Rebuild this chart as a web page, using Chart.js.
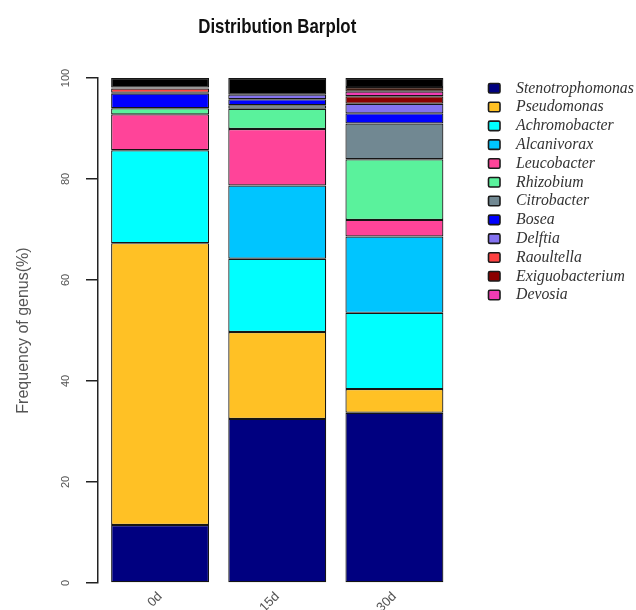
<!DOCTYPE html>
<html>
<head>
<meta charset="utf-8">
<title>Distribution Barplot</title>
<script src="https://cdn.jsdelivr.net/npm/chart.js@4/dist/chart.umd.min.js"></script>
<style>
  html, body { margin: 0; padding: 0; background: #ffffff; }
  #wrap { position: relative; width: 636px; height: 610px; }
</style>
</head>
<body>
<div id="wrap"><canvas id="chart"></canvas></div>
<script>
// Sampling days (bar positions 1..3 on the x axis)
const categories = ['0d', '15d', '30d'];
const positions = [1, 2, 3];
const yTicks = [0, 20, 40, 60, 80, 100];

// Relative abundance of each genus (%) per sampling day, stacked bottom to top
const genera = [
  'Stenotrophomonas', 'Pseudomonas', 'Achromobacter', 'Alcanivorax',
  'Leucobacter', 'Rhizobium', 'Citrobacter', 'Bosea', 'Delftia',
  'Raoultella', 'Exiguobacterium', 'Devosia'
];
const stenotrophomonas = [11.5, 32.5, 33.7];
const pseudomonas      = [55.8, 17.2, 4.7];
const achromobacter    = [18.4, 14.5, 15.1];
const alcanivorax      = [0.0, 14.5, 15.1];
const leucobacter      = [7.1, 11.2, 3.3];
const rhizobium        = [1.2, 4.0, 12.0];
const citrobacter      = [0.0, 0.7, 7.1];
const bosea            = [2.9, 1.2, 2.0];
const delftia          = [0.2, 0.9, 1.9];
const raoultella       = [0.8, 0.0, 0.0];
const exiguobacterium  = [0.2, 0.0, 1.5];
const devosia          = [0.0, 0.0, 0.9];
const minorGenera      = [0.0, 0.0, 0.9];
const others           = [1.9, 3.3, 1.8];

const generaColors = [
  '#000080', '#FFC125', '#00FFFF', '#00C5FF', '#FF4499', '#5AF29C',
  '#718892', '#0000FF', '#8472F0', '#FF4242', '#8B0000', '#F23CB4'
];

const seriesValues = [
  stenotrophomonas, pseudomonas, achromobacter, alcanivorax, leucobacter,
  rhizobium, citrobacter, bosea, delftia, raoultella, exiguobacterium, devosia
];

function toPoints(values) {
  return values.map((v, i) => ({ x: positions[i], y: v }));
}

const datasets = genera.map((name, i) => ({
  label: name,
  data: toPoints(seriesValues[i]),
  backgroundColor: generaColors[i]
}));
datasets.push({ label: 'Minor genera', data: toPoints(minorGenera), backgroundColor: '#3C1A10', inLegend: false });
datasets.push({ label: 'Others', data: toPoints(others), backgroundColor: '#000000', inLegend: false });
datasets.forEach(ds => {
  ds.borderColor = '#151515';
  ds.borderWidth = 1.2;
  ds.borderSkipped = false;
  ds.barPercentage = 0.836;
  ds.categoryPercentage = 1.0;
});

// Title and key drawn on top of the plot
const decorations = {
  id: 'decorations',
  afterDraw(chart) {
    const ctx = chart.ctx;
    const area = chart.chartArea;

    // Title, condensed bold face centred over the plot
    ctx.save();
    const title = 'Distribution Barplot';
    ctx.font = 'bold 21px "Liberation Sans", Arial, sans-serif';
    const w = ctx.measureText(title).width;
    const sx = 158 / w;
    ctx.translate(area.left + (area.right - area.left) / 2, 33);
    ctx.scale(sx, 1);
    ctx.fillStyle = '#111111';
    ctx.textAlign = 'center';
    ctx.textBaseline = 'alphabetic';
    ctx.fillText(title, 0, 0);
    ctx.restore();

    // Key of genera
    ctx.save();
    ctx.font = 'italic 15.8px "Liberation Serif", "Times New Roman", serif';
    ctx.textBaseline = 'middle';
    ctx.textAlign = 'left';
    chart.data.datasets.forEach((ds, i) => {
      if (ds.inLegend === false) return;
      const cy = 88 + i * 18.8;
      ctx.beginPath();
      ctx.roundRect(488.5, cy - 4.5, 11.5, 9.5, 1.5);
      ctx.fillStyle = ds.backgroundColor;
      ctx.fill();
      ctx.lineWidth = 1.6;
      ctx.strokeStyle = '#1a1a1a';
      ctx.stroke();
      ctx.fillStyle = '#333333';
      ctx.fillText(ds.label, 516, cy + 0.5);
    });
    ctx.restore();
  }
};

new Chart(document.getElementById('chart'), {
  type: 'bar',
  data: { datasets },
  options: {
    responsive: true,
    maintainAspectRatio: false,
    animation: false,
    layout: { padding: { top: 78, right: 179.5, left: 0, bottom: 0 } },
    plugins: {
      legend: { display: false },
      title: { display: false },
      tooltip: { enabled: false }
    },
    scales: {
      x: {
        type: 'linear',
        stacked: true,
        offset: false,
        min: 0.47,
        max: 3.53,
        afterBuildTicks(scale) {
          scale.ticks = positions.map(v => ({ value: v }));
        },
        afterFit(scale) { scale.height = 27; },
        grid: { display: false, drawTicks: false },
        border: { display: false },
        ticks: {
          minRotation: 45,
          maxRotation: 45,
          padding: 6,
          color: '#555555',
          font: { family: '"Liberation Sans", Arial, sans-serif', size: 13 },
          callback(value) {
            const idx = positions.indexOf(value);
            return idx >= 0 ? categories[idx] : '';
          }
        }
      },
      y: {
        stacked: true,
        min: 0,
        max: 100,
        afterBuildTicks(scale) {
          scale.ticks = yTicks.map(v => ({ value: v }));
        },
        afterFit(scale) { scale.width = 98; },
        border: { display: true, color: '#222222', width: 1.5 },
        grid: {
          drawOnChartArea: false,
          drawTicks: true,
          tickLength: 12,
          color: '#222222',
          lineWidth: 1.5
        },
        ticks: {
          minRotation: 90,
          maxRotation: 90,
          crossAlign: 'center',
          padding: 11,
          color: '#555555',
          font: { family: '"Liberation Sans", Arial, sans-serif', size: 11 }
        },
        title: {
          display: true,
          text: 'Frequency of genus(%)',
          color: '#555555',
          padding: { top: 14, bottom: 0 },
          font: { family: '"Liberation Sans", Arial, sans-serif', size: 16 }
        }
      }
    }
  },
  plugins: [decorations]
});
</script>
</body>
</html>
